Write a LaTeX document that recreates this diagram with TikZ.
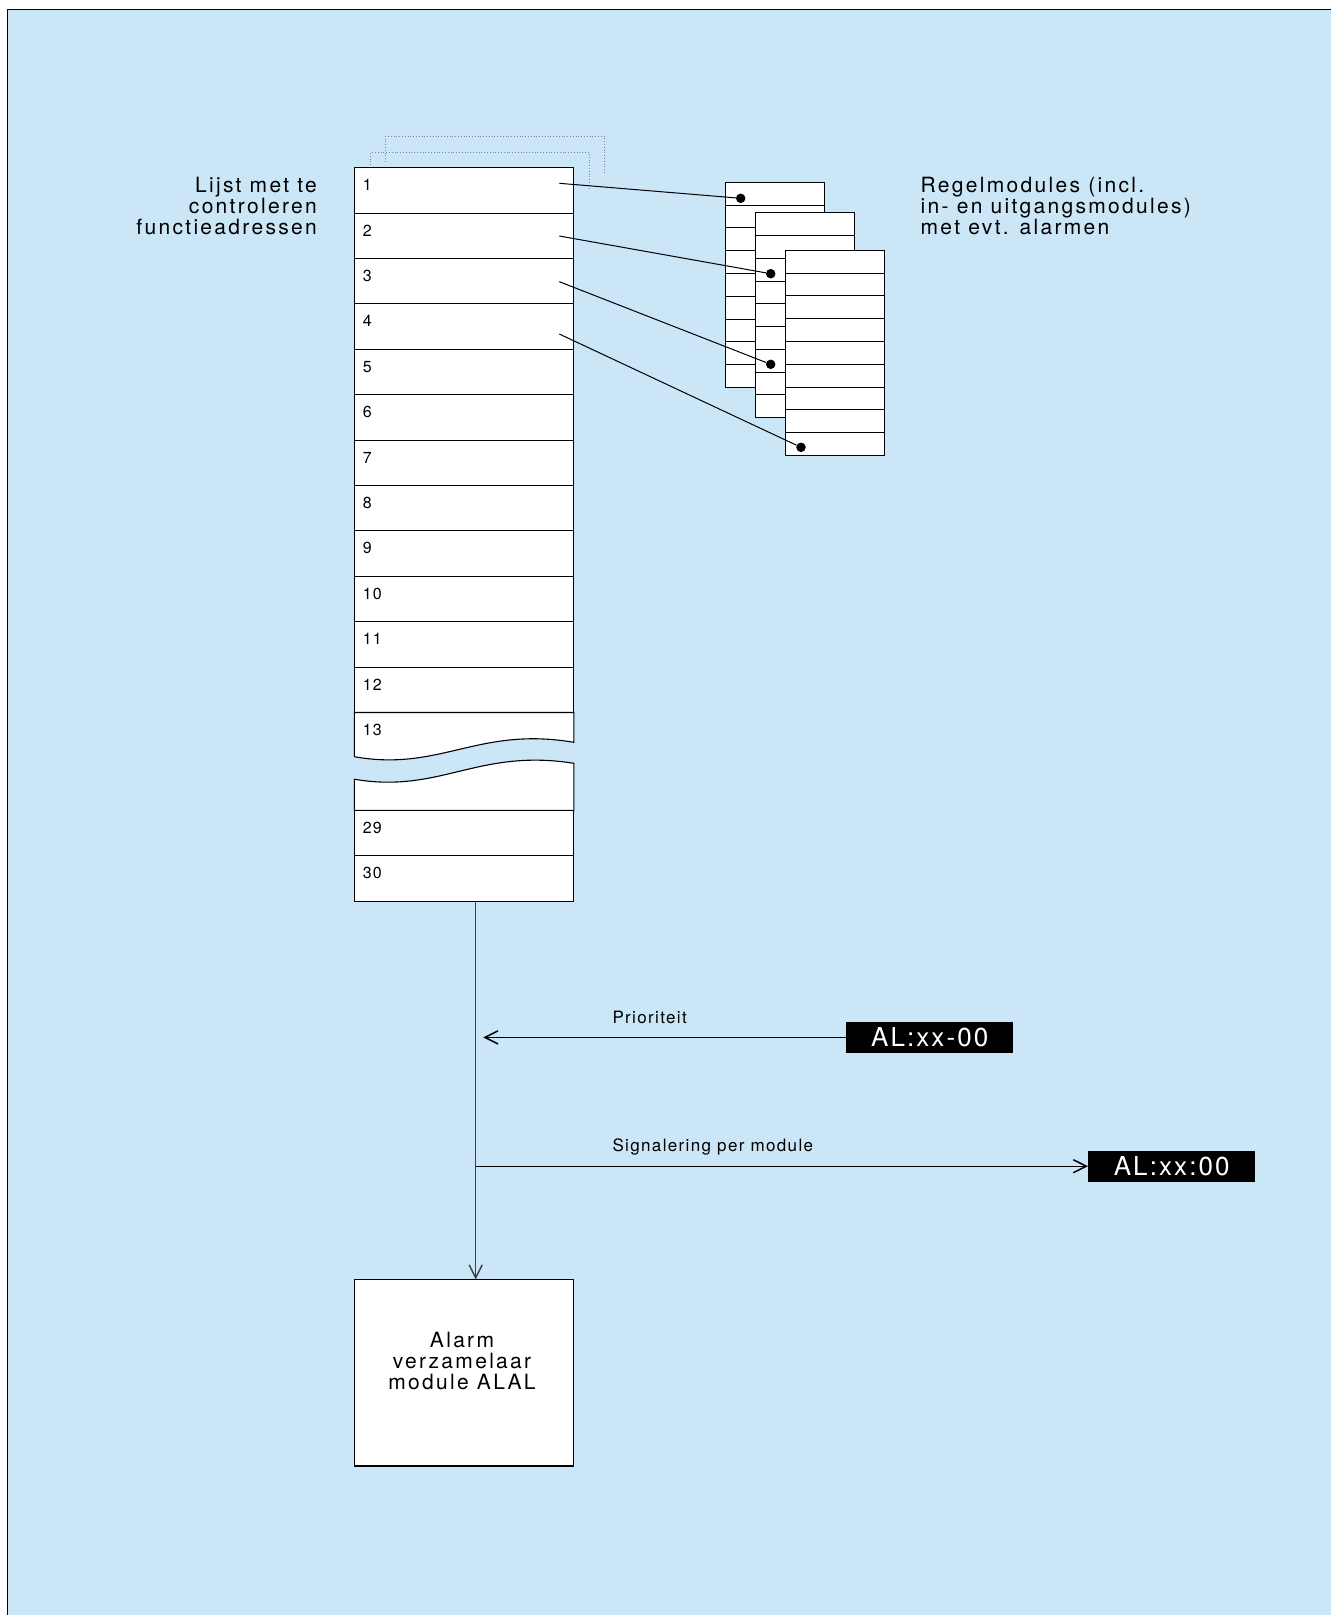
\documentclass[tikz,border=0pt]{standalone}
\usepackage{fontspec}
\setmainfont{TeX Gyre Heros}
\newfontfamily\breed[LetterSpace=11]{TeX Gyre Heros}
\newfontfamily\smal[LetterSpace=8]{TeX Gyre Heros}
\usepackage{xcolor}
\definecolor{lichtblauw}{RGB}{202,230,247}
\definecolor{stippelgrijs}{RGB}{125,135,145}
\usetikzlibrary{positioning}
\usetikzlibrary{arrows.meta}

\begin{document}
\begin{tikzpicture}[x=1pt, y=-1pt,
	>={Straight Barb[length=13pt,width=13pt,line width=1.5pt]}]

	\def\rijb{219.4}
	\def\rijh{45.4}
	\tikzset{rij/.style={draw, line width=1.1pt, fill=white, minimum width=\rijb pt, minimum height=\rijh pt, inner sep=0pt, outer sep=0pt, anchor=north west}}
	\tikzset{nummer/.style={anchor=base west, inner sep=0pt, font=\smal\fontsize{16}{16}\selectfont}}
	\tikzset{tekst/.style={inner sep=0pt, font=\breed\fontsize{21}{21.3}\selectfont}}
	\tikzset{klein/.style={anchor=base west, inner sep=0pt, font=\smal\fontsize{17}{17}\selectfont}}
	\tikzset{modul/.style={draw, line width=1pt, fill=white, minimum width=98.7pt, minimum height=205pt, inner sep=0pt, outer sep=0pt, anchor=north west}}
	\tikzset{punt/.style={circle, fill=black, minimum size=9.5pt, inner sep=0pt}}
	\tikzset{alvak/.style={fill=black, text=white, minimum width=167pt, minimum height=30.7pt, inner sep=0pt, font=\smal\fontsize{26}{26}\selectfont}}
	\tikzset{lijn/.style={line width=1pt}}
	\tikzset{stippel/.style={dotted, line width=0.8pt, color=stippelgrijs}}

	\useasboundingbox (0,0) rectangle (1331,1615);
	\fill[white] (0,0) rectangle (1331,1615);
	% Achtergrond met kader
	\fill[lichtblauw] (7.5,9) rectangle (1331,1615);
	\draw[line width=1pt] (7.5,1615) -- (7.5,9) -- (1331,9);

	% Bladen achter de lijst
	\draw[stippel] (370.3,167.7) -- (370.3,152.7) -- (589.3,152.7) -- (589.3,188.3);
	\draw[stippel] (385,161.7) -- (385,136.7) -- (604.7,136.7) -- (604.7,173.3);

	% Lijst met functieadressen
	\node[rij] (r1) at (354.4,167.7) {};
	\foreach \i [count=\j from 1] in {2,...,12}
		\node[rij, below=0pt of r\j] (r\i) {};
	\foreach \i in {1,...,12}
		\node[nummer] (n\i) at ([shift={(8.2,23)}]r\i.north west) {\i};

	% Onderbreking
	\filldraw[fill=white, line width=1.1pt] (354.4,712.5) -- (354.4,756.7)
		.. controls (440,772) and (478,726) .. (573.8,742.3)
		-- (573.8,712.5) -- cycle;
	\node[nummer] (n13) at (362.6,735.3) {13};
	\filldraw[fill=white, line width=1.1pt] (354.4,810.5) -- (354.4,779.2)
		.. controls (440,794) and (478,748) .. (573.8,763.3)
		-- (573.8,810.5) -- cycle;

	\node[rij] (r29) at (354.4,810.5) {};
	\node[rij, below=0pt of r29] (r30) {};
	\node[nummer] (n29) at ([shift={(8.2,23)}]r29.north west) {29};
	\node[nummer] (n30) at ([shift={(8.2,23)}]r30.north west) {30};

	\node[tekst, anchor=north east, align=right] (lijst) at (317,176.5)
		{Lijst met te\\controleren\\functieadressen};

	% Regelmodules
	\foreach \m/\mx/\my in {a/725.3/182.3, b/755.3/212.7, c/785.7/250.3}{
		\node[modul] (m\m) at (\mx,\my) {};
		\foreach \k in {1,...,8}
			\draw[line width=0.9pt] (m\m.north west) ++(0,\k*22.78) -- ++(98.7,0);
	}
	\node[tekst, anchor=north west, align=left] (regel) at (920.5,176.5)
		{Regelmodules (incl.\\in- en uitgangsmodules)\\met evt. alarmen};

	\node[punt] (d1) at (740.7,198.3) {};
	\node[punt] (d2) at (770.7,273.7) {};
	\node[punt] (d3) at (770.7,364.3) {};
	\node[punt] (d4) at (801,447.3) {};
	\coordinate (s1) at (559.3,183.3);
	\coordinate (s2) at (559.3,236);
	\coordinate (s3) at (559.3,281.7);
	\coordinate (s4) at (559.3,334);
	\foreach \i in {1,...,4}
		\draw[lijn] (s\i) -- (d\i);

	% Alarmverzamelaar
	\node[rij, minimum height=186.5pt] (alal) at (354.4,1279.5) {};
	\node[tekst, anchor=north, align=center] (alaltekst) at (462,1331.5)
		{Alarm\\verzamelaar\\module ALAL};

	\node[alvak] (al1) at (929.7,1037.4) {AL:xx-00};
	\node[alvak] (al2) at (1171.7,1166.2) {AL:xx:00};

	\coordinate (v0) at (475.7,901.3);
	\coordinate (v1) at (475.7,1166.2);
	\coordinate (pr) at (483.3,1037.4);
	\draw[line width=1.4pt, black!75, ->] (v0) -- (v0 |- alal.north);
	\draw[lijn, ->] (al1.west) -- (pr);
	\draw[lijn, ->] (v1) -- (al2.west);

	\node[klein] (prio) at (612.3,1023.3) {Prioriteit};
	\node[klein] (sign) at (612.3,1151.7) {Signalering per module};
\end{tikzpicture}
\end{document}
